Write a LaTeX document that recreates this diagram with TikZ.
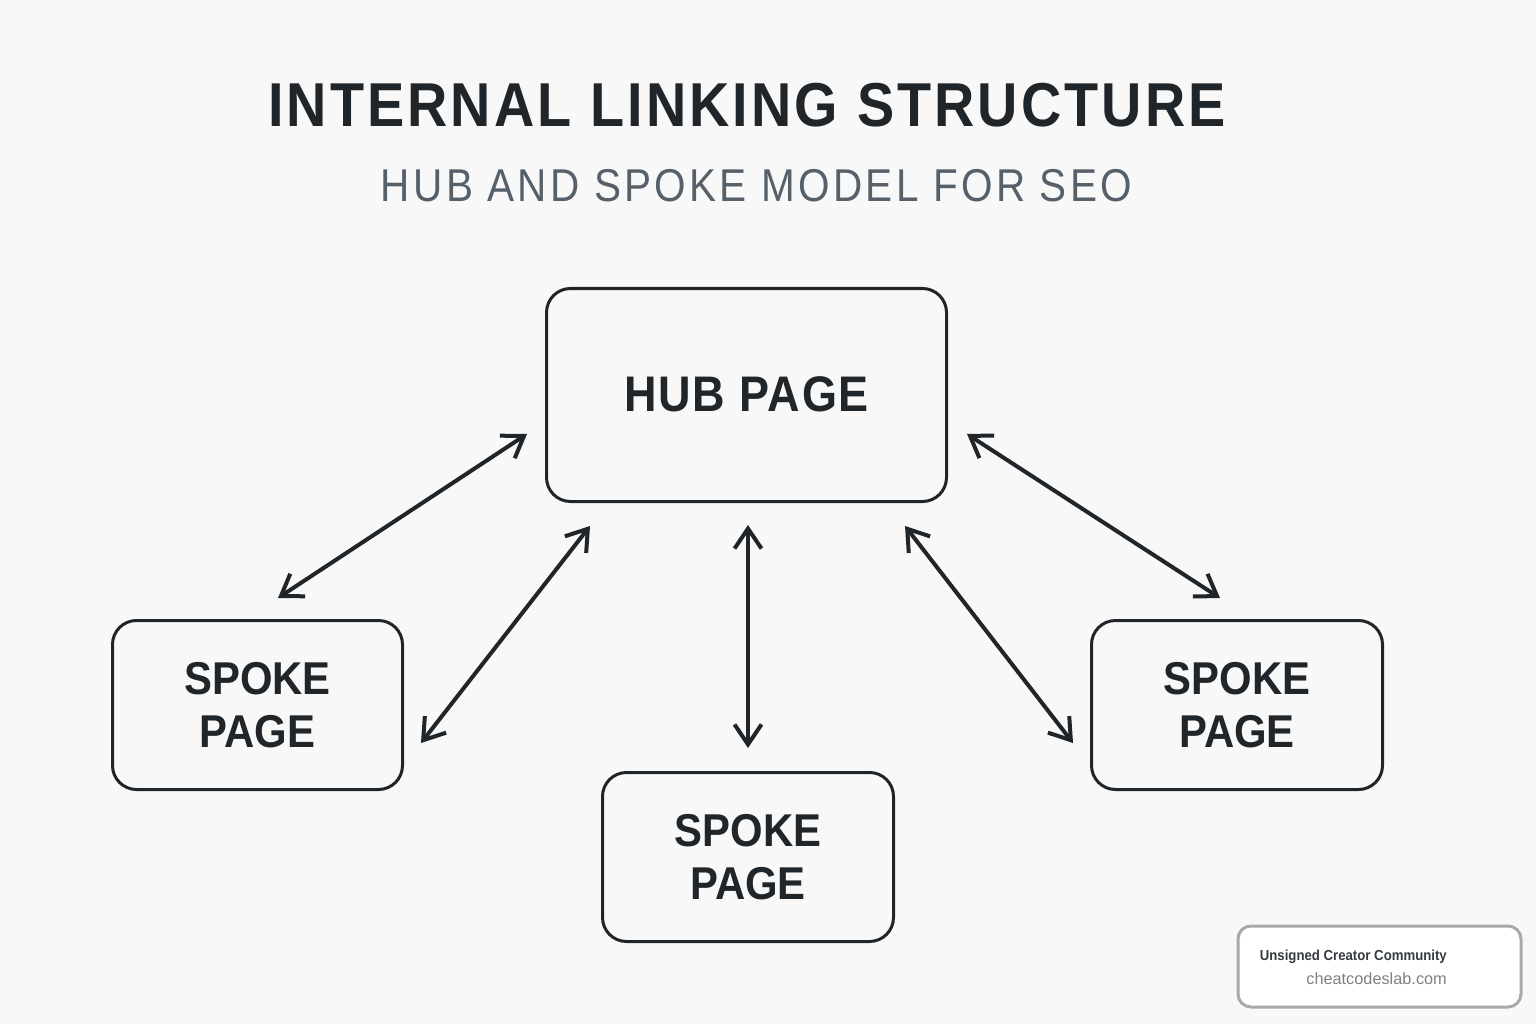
\documentclass[tikz,border=0pt]{standalone}
\usepackage{fontspec}
\setmainfont{Liberation Sans}
\newfontfamily\titlefont[FakeStretch=0.9,LetterSpace=5]{Liberation Sans}
\newfontfamily\subfont[FakeStretch=0.88,LetterSpace=7.2]{Liberation Sans}
\newfontfamily\boxfont[FakeStretch=0.91]{Liberation Sans}
\newfontfamily\hubfont[FakeStretch=0.9,LetterSpace=3.6]{Liberation Sans}
\newfontfamily\brandfont[FakeStretch=0.91]{Liberation Sans}
\usetikzlibrary{arrows.meta,positioning}
\definecolor{bgc}{HTML}{F8F8F8}
\definecolor{ink}{HTML}{20252A}
\definecolor{subc}{HTML}{56606B}
\definecolor{badge}{HTML}{A9A9A9}
\tikzset{
  x=1pt,y=-1pt,
  box/.style={draw=ink,line width=3pt,rounded corners=24pt,fill=none,inner sep=0pt,anchor=north west,align=center,text=ink,font=\fontsize{46}{53.5}\selectfont\bfseries\boxfont},
  link/.style={draw=ink,line width=4pt,{Straight Barb[length=20pt,width=27pt,line width=4pt]}-{Straight Barb[length=20pt,width=27pt,line width=4pt]}},
}
\begin{document}
\begin{tikzpicture}
\useasboundingbox (0,0) rectangle (1536,1024);
\fill[bgc] (0,0) rectangle (1536,1024);
\node[text=ink,font=\fontsize{62}{70}\selectfont\bfseries\titlefont] (title) at (747,105) {INTERNAL LINKING STRUCTURE};
\node[text=subc,font=\fontsize{46}{50}\selectfont\subfont] (sub) at (756.5,186) {HUB AND SPOKE MODEL FOR SEO};
\node[box,minimum width=400pt,minimum height=213pt,font=\fontsize{50}{53.5}\selectfont\bfseries\hubfont] (hub) at (545,287) {\raisebox{2pt}{HUB PAGE}};
\node[box,minimum width=290pt,minimum height=169pt] (left) at (111,619) {SPOKE\\PAGE};
\node[box,minimum width=291pt,minimum height=169pt] (right) at (1090,619) {SPOKE\\PAGE};
\node[box,minimum width=291pt,minimum height=169pt] (mid) at (601,771) {SPOKE\\PAGE};
\coordinate (a1) at (527,434); \coordinate (a2) at (278,598);
\coordinate (b1) at (590,526); \coordinate (b2) at (421,743);
\coordinate (c1) at (748,525); \coordinate (c2) at (748,748);
\coordinate (d1) at (905,526); \coordinate (d2) at (1073,743);
\coordinate (e1) at (967,434); \coordinate (e2) at (1220,598);
\draw[link] (a1) -- (a2);
\draw[link] (b1) -- (b2);
\draw[link] (c1) -- (c2);
\draw[link] (d1) -- (d2);
\draw[link] (e1) -- (e2);
\draw[draw=badge,line width=3pt,fill=white,rounded corners=13pt] (1238,926) rectangle (1521,1007);
\node[anchor=east,text=ink!90,font=\fontsize{14.5}{16}\selectfont\bfseries\brandfont,inner sep=0pt] (brand) at (1447,957) {Unsigned Creator Community};
\node[anchor=east,text=gray,font=\fontsize{16.3}{18}\selectfont,inner sep=0pt] (url) at (1447,979) {cheatcodeslab.com};
\end{tikzpicture}
\end{document}
